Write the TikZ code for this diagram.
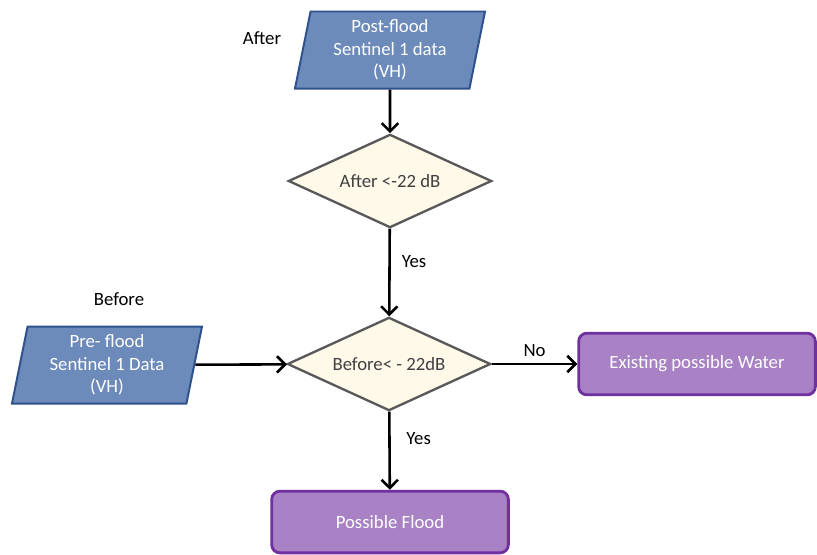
\documentclass[tikz,border=0pt]{standalone}
\usepackage{fontspec}
\setmainfont{Carlito}
\usetikzlibrary{arrows.meta, positioning, shapes.geometric}
\definecolor{DataBlue}{RGB}{108,138,186}
\definecolor{DataEdge}{RGB}{47,82,143}
\definecolor{TestFill}{RGB}{255,249,234}
\definecolor{TestEdge}{RGB}{89,89,89}
\definecolor{TestText}{RGB}{64,64,64}
\definecolor{OutFill}{RGB}{168,130,196}
\definecolor{OutEdge}{RGB}{112,48,160}

\begin{document}
\begin{tikzpicture}[x=0.03cm, y=-0.03cm, >={Straight Barb[length=7pt,width=14pt]},
    font=\fontsize{16}{19}\selectfont,
    data/.style={trapezium, trapezium left angle=76, trapezium right angle=104,
      trapezium stretches body, draw=DataEdge, line width=1.7pt, fill=DataBlue,
      text=white, align=center, inner sep=1pt, minimum width=5.7cm, minimum height=2.31cm},
    test/.style={diamond, aspect=2.2, draw=TestEdge, line width=2pt, fill=TestFill,
      text=TestText, inner sep=1pt, minimum width=6.1cm, minimum height=2.8cm},
    result/.style={rectangle, rounded corners=7pt, draw=OutEdge, line width=2.4pt,
      fill=OutFill, text=white, minimum width=7.1cm, minimum height=1.85cm},
    flow/.style={->, line width=2.2pt, black}]
        \useasboundingbox (0,0) rectangle (817,554);
        % Input data
        \node [data] (post) at (390,50) {Post-flood\\Sentinel 1 data\\(VH)};
        \node [data] (pre) at (107,365) {Pre- flood\\Sentinel 1 Data\\(VH)};
        \node (after) at (262,38) {After};
        \node (before) at (119,299) {Before};
        % Thresholds
        \node [test] (aftertest) at (390,181) {After <-22 dB};
        \node [test] (beforetest) at (389,364) {Before< - 22dB};
        % Outcomes
        \node [result] (water) at (697,364) {Existing possible Water};
        \node [result] (flood) at (390,522) {Possible Flood};
        % Connectors
        \draw [flow] (post) -- (aftertest);
        \draw [flow] (aftertest) -- node[right=6pt, pos=0.37] (yesone) {Yes} (beforetest);
        \draw [flow] (pre) -- (beforetest);
        \draw [flow] (beforetest) -- node[above=2pt] (no) {No} (water);
        \draw [flow] (beforetest) -- node[right=10pt, pos=0.35] (yestwo) {Yes} (flood);
\end{tikzpicture}
\end{document}
